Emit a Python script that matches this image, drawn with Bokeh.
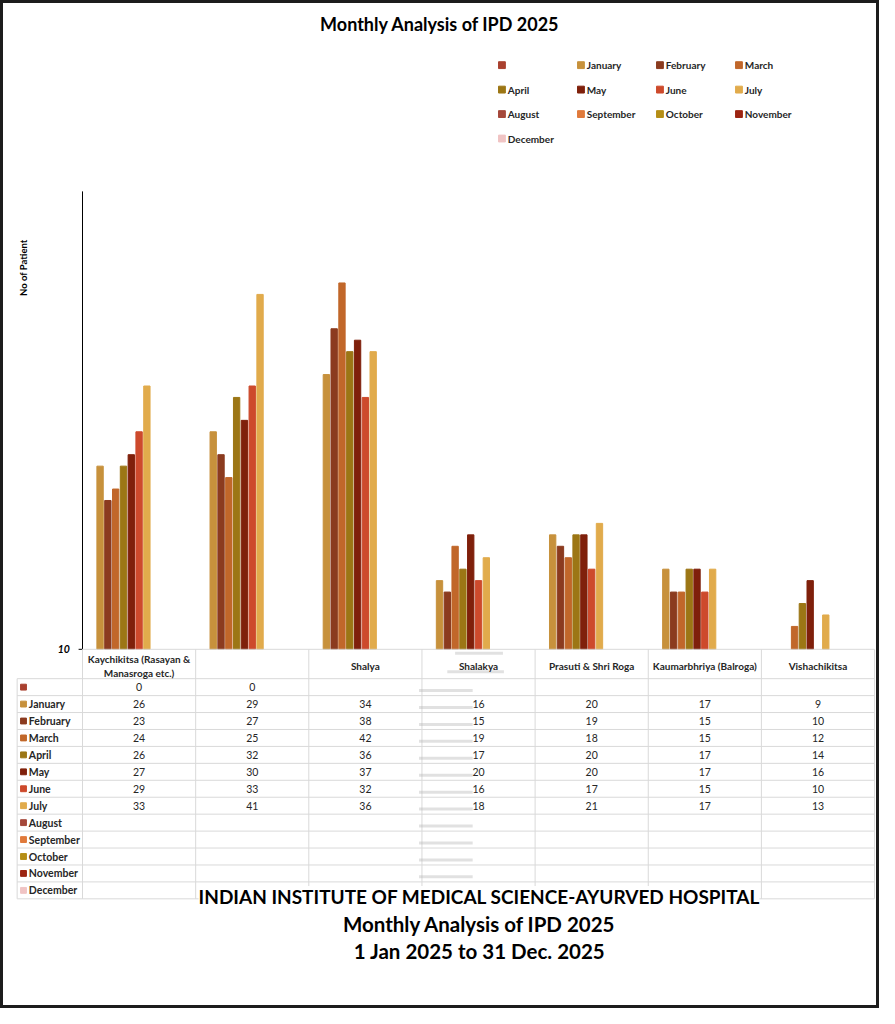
import math
from bokeh.plotting import figure
from bokeh.layouts import column
from bokeh.models import Range1d
from bokeh.core.properties import value
from bokeh.embed import file_html
from bokeh.resources import INLINE

# ---------------- data ----------------
categories = ["Kaychikitsa (Rasayan &\nManasroga etc.)", "", "Shalya", "Shalakya",
              "Prasuti & Shri Roga", "Kaumarbhriya (Balroga)", "Vishachikitsa"]
series_names = ["", "January", "February", "March", "April", "May", "June", "July",
                "August", "September", "October", "November", "December"]
series_colors = ["#a9402f", "#c7913c", "#8b3b1f", "#c1672a", "#9c7615", "#7f200b", "#cd4a2c",
                 "#e1ab4c", "#a5483a", "#e07a3b", "#b58e16", "#9c2512", "#f0c4c4"]
blank_series = [0, 0, None, None, None, None, None]
january = [26, 29, 34, 16, 20, 17, 9]
february = [23, 27, 38, 15, 19, 15, 10]
march = [24, 25, 42, 19, 18, 15, 12]
april = [26, 32, 36, 17, 20, 17, 14]
may = [27, 30, 37, 20, 20, 17, 16]
june = [29, 33, 32, 16, 17, 15, 10]
july = [33, 41, 36, 18, 21, 17, 13]
august = [None] * 7
september = [None] * 7
october = [None] * 7
november = [None] * 7
december = [None] * 7
series_values = [blank_series, january, february, march, april, may, june, july,
                 august, september, october, november, december]
y_ticks = [10]
y_min, y_max = 10, 50

title_text = "Monthly Analysis of IPD 2025"
y_label = "No of Patient"
footer_lines = ["INDIAN INSTITUTE OF MEDICAL SCIENCE-AYURVED HOSPITAL",
                "Monthly Analysis of IPD 2025",
                "1 Jan 2025 to 31 Dec. 2025"]

# ---------------- geometry (reference pixel layout) ----------------
REF_W, REF_H = 895, 1024
BORDER = 3
W, H = 879 - 2 * BORDER, 1008 - 2 * BORDER

FONT = value("Lato")
TXT = "#262626"
GRID = "#d9d9d9"

PLOT_TOP, PLOT_BOTTOM = 192, 660
PLOT_LEFT, PLOT_RIGHT = 81, 893
n_cat = len(categories)
n_series = len(series_names)
CAT_W = (PLOT_RIGHT - PLOT_LEFT) / n_cat
PITCH = 8.0 / CAT_W
BAR_W = 6.5 / CAT_W


def cat_x(ref_x):
    """reference pixel x -> category units"""
    return -0.5 + (ref_x - PLOT_LEFT) / CAT_W


def val_at(ref_y):
    """reference pixel y -> value units"""
    return y_min + (PLOT_BOTTOM - ref_y) / (PLOT_BOTTOM - PLOT_TOP) * (y_max - y_min)


p = figure(width=W, height=H, x_range=Range1d(cat_x(0), cat_x(REF_W)),
           y_range=Range1d(REF_H, 0), toolbar_location=None, output_backend="svg",
           min_border=0, min_border_left=0, min_border_right=0, min_border_top=0,
           min_border_bottom=0, x_axis_location=None, y_axis_location=None)
p.extra_y_ranges = {"val": Range1d(val_at(REF_H), val_at(0))}
p.grid.visible = False
p.outline_line_color = None
p.background_fill_color = "white"
p.border_fill_color = "white"

# ---------------- title + legend ----------------
p.text(x=[cat_x(REF_W / 2)], y=[21], text=[title_text], text_align="center", text_baseline="middle",
       text_font=FONT, text_font_style="bold", text_font_size="18px", text_color="black")

LEG_X0, LEG_DX, LEG_Y0, LEG_DY, LEG_COLS = 511, 81, 63, 25, 4
lx = [LEG_X0 + (i % LEG_COLS) * LEG_DX for i in range(n_series)]
ly = [LEG_Y0 + (i // LEG_COLS) * LEG_DY for i in range(n_series)]
p.rect(x=[cat_x(v) for v in lx], y=ly, width=7 / CAT_W, height=7, color=series_colors)
p.text(x=[cat_x(v + 6) for v in lx], y=ly, text=series_names, text_align="left", text_baseline="middle",
       text_font=FONT, text_font_style="bold", text_font_size="10px", text_color=TXT)

# ---------------- bars (value scale) ----------------
for s in range(n_series):
    vals = series_values[s]
    idx = [i for i in range(n_cat) if vals[i] is not None and vals[i] > y_min]
    if idx:
        p.vbar(x=[i + (s - (n_series - 1) / 2) * PITCH for i in idx], top=[vals[i] for i in idx],
               bottom=y_min, width=BAR_W, color=series_colors[s], y_range_name="val")

# ---------------- value axis ----------------
p.segment(x0=[-0.5], y0=[y_min], x1=[-0.5], y1=[y_max], line_color="black", line_width=1,
          y_range_name="val")
p.segment(x0=[cat_x(PLOT_LEFT - 4)] * len(y_ticks), y0=y_ticks, x1=[-0.5] * len(y_ticks), y1=y_ticks,
          line_color="black", line_width=1, y_range_name="val")
p.text(x=[cat_x(PLOT_LEFT - 13)] * len(y_ticks), y=y_ticks, text=[str(t) for t in y_ticks],
       text_align="right", text_baseline="middle", text_font=FONT, text_font_style="bold italic",
       text_font_size="10.5px", text_color="black", y_range_name="val")
p.text(x=[cat_x(20)], y=[270], text=[y_label], angle=math.pi / 2, text_align="center",
       text_baseline="middle", text_font=FONT, text_font_style="bold", text_font_size="9.5px",
       text_color="black")

# ---------------- data table ----------------
TBL_LEFT = 14
ROW_TOP = 690
ROW_H = (915 - ROW_TOP) / n_series
row_lines = [ROW_TOP + k * ROW_H for k in range(n_series + 1)]
p.segment(x0=[-0.5], y0=[PLOT_BOTTOM], x1=[n_cat - 0.5], y1=[PLOT_BOTTOM], line_color=GRID)
p.segment(x0=[cat_x(TBL_LEFT)] * len(row_lines), y0=row_lines,
          x1=[n_cat - 0.5] * len(row_lines), y1=row_lines, line_color=GRID, line_width=1)
vx = [k - 0.5 for k in range(n_cat + 1)]
p.segment(x0=vx, y0=[PLOT_BOTTOM] * len(vx), x1=vx, y1=[row_lines[-1]] * len(vx),
          line_color=GRID, line_width=1)
p.segment(x0=[cat_x(TBL_LEFT)], y0=[ROW_TOP], x1=[cat_x(TBL_LEFT)], y1=[row_lines[-1]],
          line_color=GRID, line_width=1)

# blurred smudge over the Shalakya column (present in the reference image)
sm_y = [r + ROW_H * 0.7 for r in row_lines[:-1]]
p.segment(x0=[cat_x(426)] * len(sm_y), y0=sm_y, x1=[cat_x(481)] * len(sm_y), y1=sm_y,
          line_color="#b4b4b4", line_alpha=0.4, line_width=3)
p.segment(x0=[cat_x(463), cat_x(455)], y0=[664, 683], x1=[cat_x(512), cat_x(513)], y1=[664, 683],
          line_color="#b4b4b4", line_alpha=0.4, line_width=3)

# header row (multi-line names split into separate lines)
HDR_Y, HDR_LH = 677, 14
hx, hy, ht = [], [], []
for i, c in enumerate(categories):
    lines = c.split("\n")
    for j, ln in enumerate(lines):
        hx.append(i)
        hy.append(HDR_Y + (j - (len(lines) - 1) / 2) * HDR_LH)
        ht.append(ln)
p.text(x=hx, y=hy, text=ht, text_align="center", text_baseline="middle", text_font=FONT,
       text_font_style="bold", text_font_size="10px", text_color=TXT)

# row labels
row_c = [ROW_TOP + (k + 0.5) * ROW_H for k in range(n_series)]
p.rect(x=[cat_x(20.5)] * n_series, y=row_c, width=6 / CAT_W, height=6, color=series_colors)
p.text(x=[cat_x(26)] * n_series, y=row_c, text=series_names, text_align="left",
       text_baseline="middle", text_font=FONT, text_font_style="bold", text_font_size="10.5px",
       text_color=TXT)

# values
vxs, vys, vts = [], [], []
for s in range(n_series):
    for i in range(n_cat):
        v = series_values[s][i]
        if v is not None:
            vxs.append(i)
            vys.append(row_c[s])
            vts.append(str(v))
p.text(x=vxs, y=vys, text=vts, text_align="center", text_baseline="middle", text_font=FONT,
       text_font_size="10.5px", text_color=TXT)

# ---------------- footer text box ----------------
p.quad(left=[cat_x(200)], right=[cat_x(775)], top=[902], bottom=[990],
       fill_color="white", line_color=None)
p.text(x=[cat_x(488)], y=[913], text=[footer_lines[0]], text_align="center", text_baseline="middle",
       text_font=FONT, text_font_style="bold", text_font_size="19px", text_color="black")
p.text(x=[cat_x(488)] * 2, y=[941, 968], text=footer_lines[1:], text_align="center",
       text_baseline="middle", text_font=FONT, text_font_style="bold", text_font_size="20.5px",
       text_color="black")

layout = column(p, spacing=0,
                styles={"border": "%dpx solid #1c1c1c" % BORDER, "background-color": "white"})

open("out.html", "w").write(file_html(layout, INLINE))
